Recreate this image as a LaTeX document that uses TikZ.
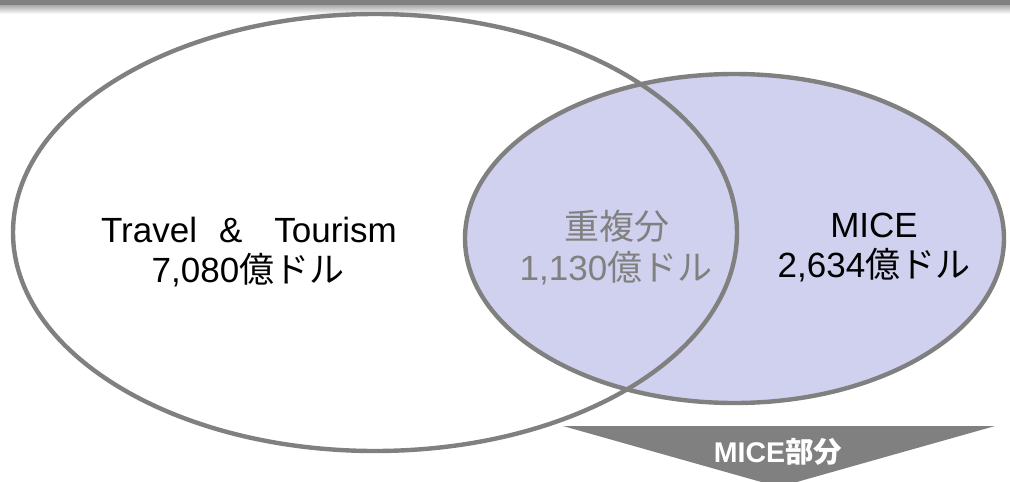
\documentclass[tikz,border=0pt]{standalone}
\usepackage{fontspec}
\setmainfont{Liberation Sans}
\newfontfamily\jp{Noto Sans CJK JP}
\usetikzlibrary{shapes.geometric}
\definecolor{linegray}{RGB}{128,128,128}
\definecolor{lav}{RGB}{208,209,238}
\definecolor{txtgray}{RGB}{128,128,128}
\begin{document}
\begin{tikzpicture}[x=1pt,y=-1pt,
  venn/.style={ellipse, inner sep=0pt, outer sep=0pt},
  outline/.style={draw=linegray, line width=4.4pt},
  lbl/.style={anchor=base, inner sep=0pt, font=\fontsize{35}{40}\selectfont},
  arrowlabel/.style={anchor=base, inner sep=0pt, text=white, font=\fontsize{28.5}{32}\selectfont\bfseries}
]
\useasboundingbox (0,0) rectangle (1010,482);
\fill[white] (0,0) rectangle (1010,482);
% top bar with shadow
\shade[top color=linegray!75, bottom color=white] (0,4) rectangle (1010,14);
\fill[linegray] (0,0) rectangle (1010,4.5);

% Venn ellipses
\node[venn, fill=white, minimum width=724pt, minimum height=437pt] (tt) at (375,232.5) {};
\node[venn, fill=lav, minimum width=539pt, minimum height=329pt] (mice) at (734.5,238.5) {};
\draw[outline] (tt.center) ellipse [x radius=362pt, y radius=218.5pt];
\draw[outline] (mice.center) ellipse [x radius=269.5pt, y radius=164.5pt];

% labels
\node[lbl] (ttname) at (249,242) {Travel\hspace{22pt}\&\hspace{32pt}Tourism};
\node[lbl] (ttval) at (248,282) {7,080{\jp 億ドル}};
\node[lbl, text=txtgray] (ovname) at (617,239) {{\jp 重複分}};
\node[lbl, text=txtgray] (ovval) at (616,280) {1,130{\jp 億ドル}};
\node[lbl] (micename) at (874,237) {MICE};
\node[lbl] (miceval) at (874,277) {2,634{\jp 億ドル}};

% down arrow
\fill[linegray] (563,426) -- (995,426) -- (779,487) -- cycle;
\node[arrowlabel] (arrowlbl) at (778,462) {MICE{\jp 部分}};
\end{tikzpicture}
\end{document}
